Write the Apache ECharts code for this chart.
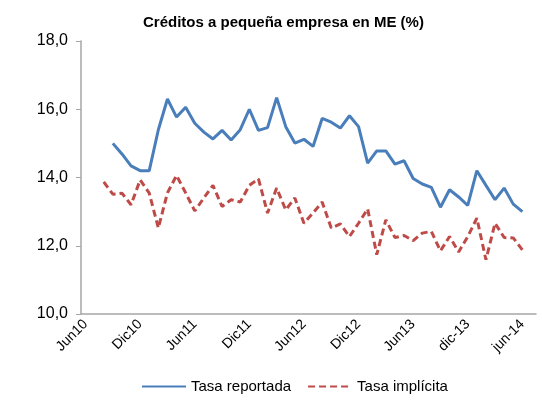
<!DOCTYPE html>
<html>
<head>
<meta charset="utf-8">
<script src="https://cdn.jsdelivr.net/npm/echarts@6/dist/echarts.min.js"></script>
<style>
html, body { margin: 0; padding: 0; background: #fff; }
#chart { width: 542px; height: 416px; }
</style>
</head>
<body>
<div id="chart"></div>
<script>
// meses (Jun10 .. Jul14)
var meses = ['Jun10','Jul10','Ago10','Set10','Oct10','Nov10','Dic10',
	'Ene11','Feb11','Mar11','Abr11','May11','Jun11','Jul11','Ago11','Set11','Oct11','Nov11','Dic11',
	'Ene12','Feb12','Mar12','Abr12','May12','Jun12','Jul12','Ago12','Set12','Oct12','Nov12','Dic12',
	'Ene13','Feb13','Mar13','Abr13','May13','Jun13','jul-13','ago-13','sep-13','oct-13','nov-13','dic-13',
	'ene-14','feb-14','mar-14','abr-14','may-14','jun-14','jul-14'];

var tasaReportada = [null, null, null,
	15.0, 14.69, 14.34, 14.2, 14.2, 15.4, 16.3, 15.77, 16.06, 15.59,
	15.33, 15.13, 15.38, 15.1, 15.4, 16.0, 15.38, 15.46, 16.34, 15.49,
	15.01, 15.12, 14.91, 15.73, 15.62, 15.45, 15.81, 15.49, 14.42, 14.78,
	14.78, 14.39, 14.49, 13.97, 13.81, 13.71, 13.13, 13.64, 13.43, 13.18,
	14.2, 13.77, 13.35, 13.69, 13.22, 13.0, null];

var tasaImplicita = [null, null,
	13.87, 13.51, 13.54, 13.2, 13.93, 13.54, 12.52, 13.55, 14.06, 13.55,
	13.02, 13.4, 13.77, 13.15, 13.35, 13.28, 13.77, 13.96, 12.96, 13.69,
	13.05, 13.4, 12.66, 12.96, 13.28, 12.52, 12.64, 12.27, 12.66, 13.08,
	11.74, 12.76, 12.24, 12.3, 12.15, 12.37, 12.42, 11.85, 12.27, 11.82,
	12.27, 12.81, 11.59, 12.66, 12.24, 12.23, 11.88, null];

var myChart = echarts.init(document.getElementById('chart'));

var option = {
	backgroundColor : '#fff',
	textStyle : {
		fontFamily : 'Liberation Sans, Arial, sans-serif'
	},
	title : {
		text : 'Créditos a pequeña empresa en ME (%)',
		left : 138,
		top : 10,
		textStyle : {
			fontSize : 15,
			fontWeight : 'bold',
			color : '#000'
		}
	},
	legend : {
		bottom : 17,
		left : 136,
		itemWidth : 44,
		itemHeight : 3,
		itemGap : 16,
		itemStyle : {
			opacity : 0
		},
		textStyle : {
			fontSize : 15,
			color : '#000'
		},
		data : [ 'Tasa reportada', 'Tasa implícita' ]
	},
	grid : {
		left : 81,
		right : 6,
		top : 41,
		bottom : 102
	},
	xAxis : {
		type : 'category',
		boundaryGap : true,
		data : meses,
		axisLine : {
			lineStyle : {
				color : '#a6a6a6',
				width : 1.5
			}
		},
		axisTick : {
			interval : 0,
			length : 4,
			lineStyle : {
				color : '#a6a6a6'
			}
		},
		axisLabel : {
			interval : 5,
			rotate : 45,
			fontSize : 14,
			color : '#000',
			margin : 8
		}
	},
	yAxis : {
		type : 'value',
		min : 10,
		max : 18,
		interval : 2,
		splitLine : {
			show : false
		},
		axisLine : {
			show : true,
			lineStyle : {
				color : '#a6a6a6',
				width : 1.5
			}
		},
		axisTick : {
			show : true,
			length : 5,
			lineStyle : {
				color : '#a6a6a6'
			}
		},
		axisLabel : {
			fontSize : 16,
			color : '#000',
			margin : 13,
			formatter : function(v) {
				return v.toFixed(1).replace('.', ',');
			}
		}
	},
	series : [ {
		name : 'Tasa reportada',
		type : 'line',
		symbol : 'none',
		data : tasaReportada,
		lineStyle : {
			color : '#4a7ebb',
			width : 3
		},
		itemStyle : {
			color : '#4a7ebb'
		}
	}, {
		name : 'Tasa implícita',
		type : 'line',
		symbol : 'none',
		data : tasaImplicita,
		lineStyle : {
			color : '#be4b48',
			width : 3,
			type : [ 7, 4 ]
		},
		itemStyle : {
			color : '#be4b48'
		}
	} ]
};

myChart.setOption(option);
</script>
</body>
</html>
